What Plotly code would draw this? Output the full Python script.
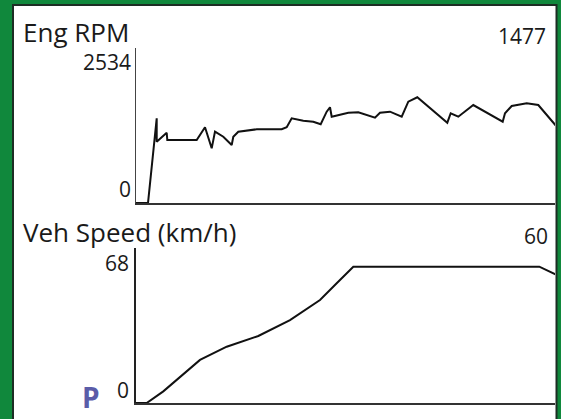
import plotly.graph_objects as go

# ---- data ----
rpm_t = [0, 12, 20.7, 20.7, 30.7, 31.3, 60.7, 69, 75.7, 79, 87.3, 95.7, 97.3, 102.3, 120.7,
         145.7, 150.7, 155.7, 167.3, 177.3, 184.7, 190.7, 194, 195.7, 212.3, 217.3, 222.3,
         239, 244, 254, 265.7, 272.3, 281.3, 311.3, 314.7, 322.3, 337.3, 366.7, 369, 375.7,
         390.7, 402.3, 420.7]
rpm_v = [0, 0, 1385, 1002, 1149, 1030, 1030, 1238, 894, 1166, 1084, 948, 1084, 1166, 1205,
         1205, 1238, 1385, 1346, 1329, 1287, 1493, 1565, 1411, 1476, 1483, 1483,
         1395, 1476, 1493, 1411, 1656, 1728, 1313, 1467, 1411, 1602, 1329, 1467, 1586,
         1630, 1602, 1248]

spd_t = [0, 10.7, 27.3, 57.3, 64, 90.7, 122.3, 154, 184, 200.7, 217.3, 403.3, 420.7]
spd_v = [0, 0, 5.1, 16.7, 18.9, 24.7, 29.4, 36.4, 45.2, 52.5, 59.8, 59.8, 56.2]

rpm_max = 2534
spd_max = 68
rpm_label = "Eng RPM"
spd_label = "Veh Speed (km/h)"
rpm_now = "1477"
spd_now = "60"
gear = "P"

W, H = 561, 419


def px(x):
    return x / W


def py(y):
    return 1 - y / H


GREEN = "#10883c"
DARK = "#1d2d24"
TEXT = "#1a1a1a"
FONT = "Open Sans"

fig = go.Figure()
fig.add_trace(go.Scatter(x=rpm_t, y=rpm_v, mode="lines", xaxis="x", yaxis="y",
                         line=dict(color="#111111", width=2), hoverinfo="skip"))
fig.add_trace(go.Scatter(x=spd_t, y=spd_v, mode="lines", xaxis="x2", yaxis="y2",
                         line=dict(color="#111111", width=2), hoverinfo="skip"))

xdom = [px(136), px(555)]
axis_common = dict(showgrid=False, zeroline=False, showticklabels=False, ticks="")
fig.update_layout(
    width=W, height=H,
    margin=dict(l=0, r=0, t=0, b=0),
    paper_bgcolor=GREEN, plot_bgcolor="white",
    showlegend=False,
    xaxis=dict(domain=xdom, range=[0, 419], anchor="y", showline=True,
               linecolor="#333333", linewidth=2, **axis_common),
    yaxis=dict(domain=[py(203), py(48)], range=[0, rpm_max], anchor="x", showline=True,
               linecolor="#444444", linewidth=1, **axis_common),
    xaxis2=dict(domain=xdom, range=[0, 419], anchor="y2", showline=True,
                linecolor="#333333", linewidth=2, **axis_common),
    yaxis2=dict(domain=[py(403), py(248)], range=[0, spd_max], anchor="x2", showline=True,
                linecolor="#222222", linewidth=1.5, **axis_common),
    shapes=[
        dict(type="rect", xref="paper", yref="paper", layer="below",
             x0=px(13), x1=px(556.5), y0=-0.05, y1=py(5),
             fillcolor="white", line=dict(color=DARK, width=2)),
    ],
)

ann = []


def txt(s, x, y, size, xanchor, color=TEXT, bold=False):
    ann.append(dict(text=("<b>%s</b>" % s) if bold else s, x=px(x), y=py(y),
                    xref="paper", yref="paper", xanchor=xanchor, yanchor="middle",
                    showarrow=False, borderpad=0,
                    font=dict(family=FONT, size=size, color=color)))


txt(rpm_label, 22, 32, 26, "left")
txt(rpm_now, 547, 36, 21, "right")
txt(str(rpm_max), 132, 62, 21, "right")
txt("0", 132, 189, 21, "right")
txt(spd_label, 22, 232, 26, "left")
txt(spd_now, 549, 236, 21, "right")
txt(str(spd_max), 130, 263, 21, "right")
txt("0", 130, 390, 21, "right")
txt(gear, 81, 397, 28, "left", color="#5a5ca8", bold=True)
fig.update_layout(annotations=ann)

fig.write_html("out.html", config={"displayModeBar": False},
               post_script="document.body.style.margin='0';")
